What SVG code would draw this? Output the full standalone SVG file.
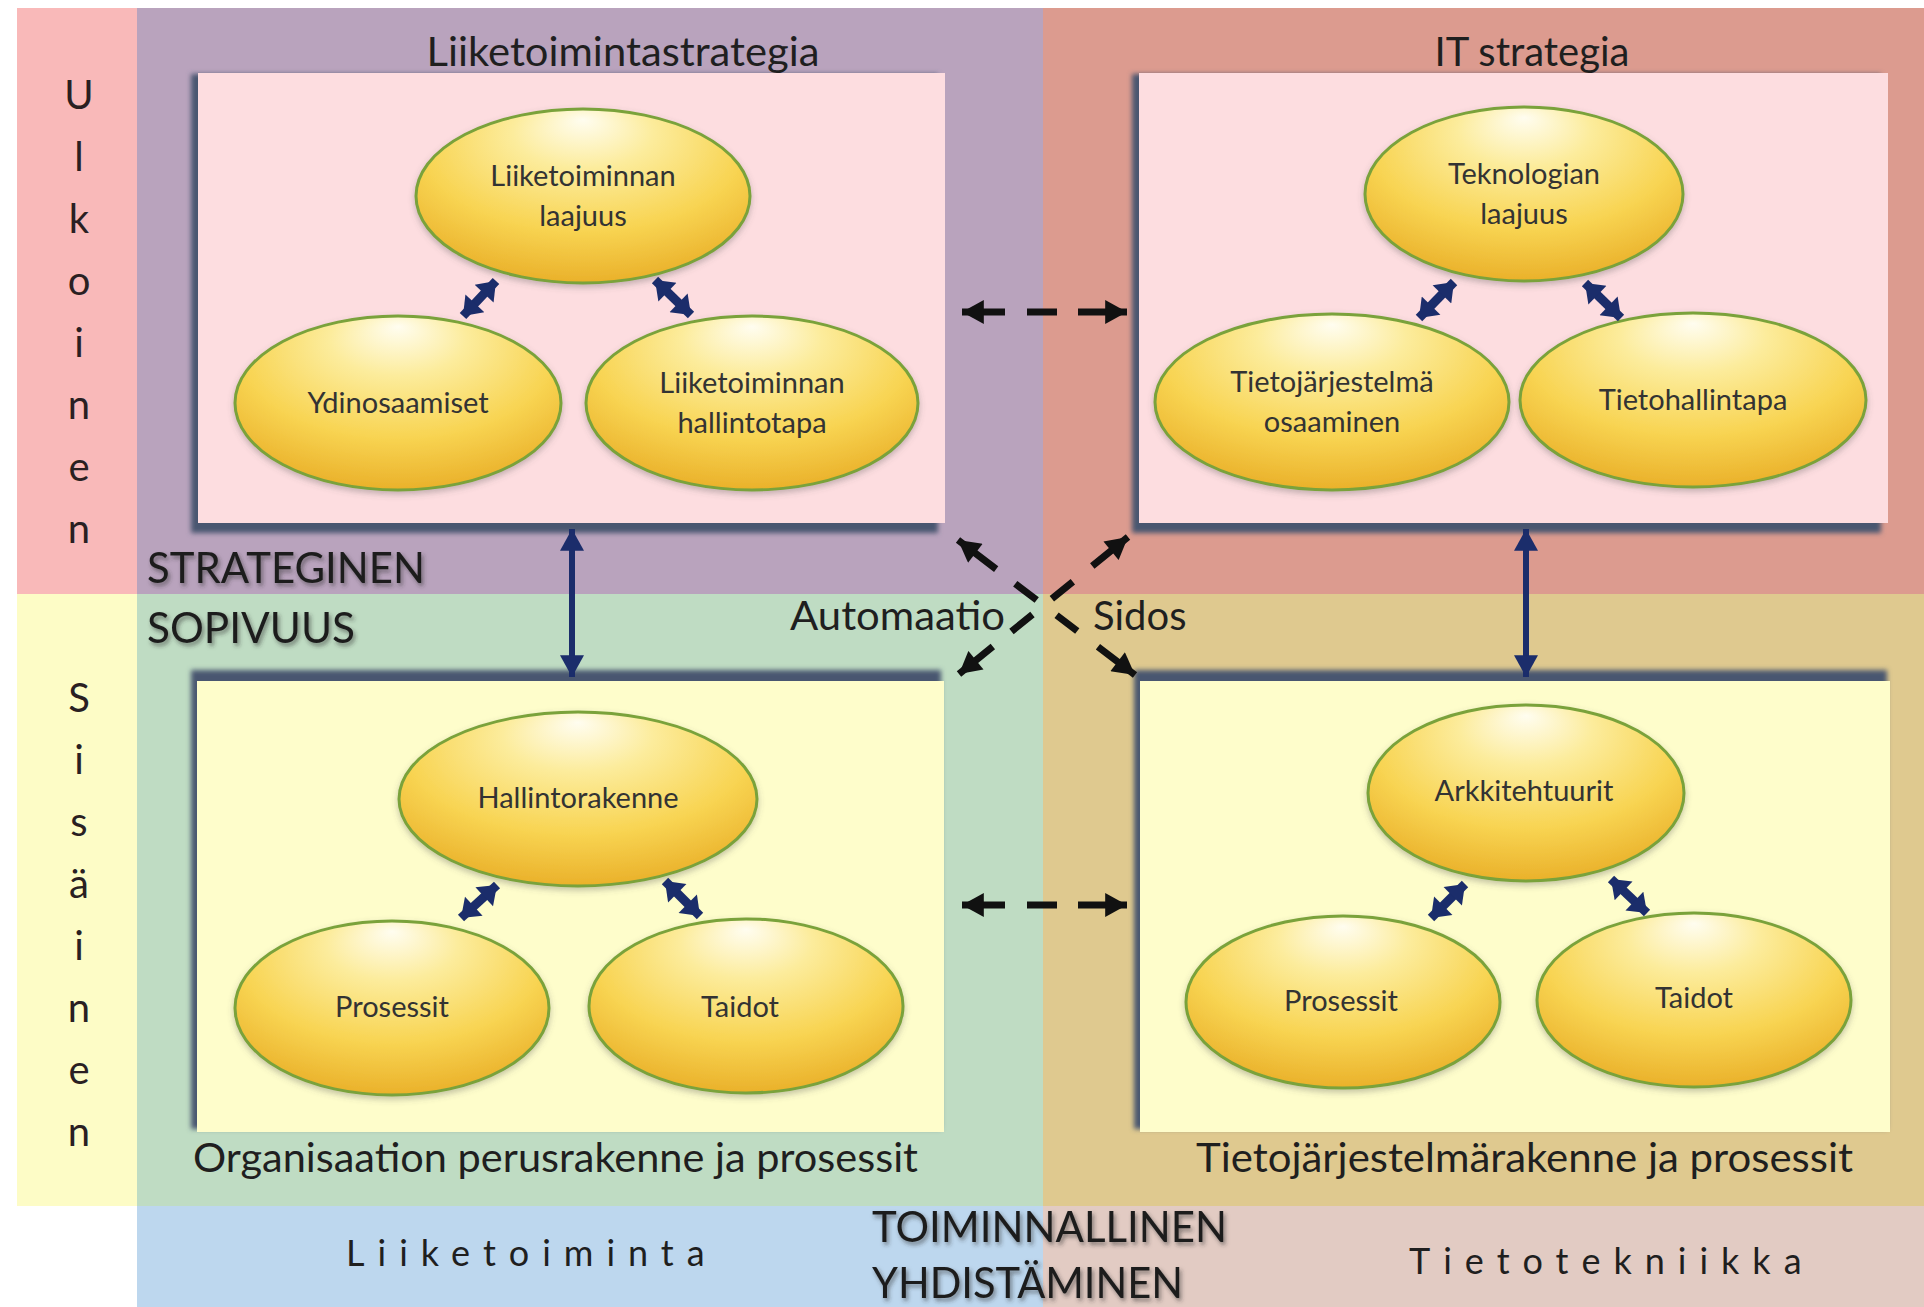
<svg xmlns="http://www.w3.org/2000/svg" width="1924" height="1307" viewBox="0 0 1924 1307">
<defs>
<style>
.t{font-family:Lato,"Liberation Sans",sans-serif;fill:#262626}
.et{font-family:Lato,"Liberation Sans",sans-serif;font-size:29px;fill:#333333;text-anchor:middle}
.ell{fill:url(#eg);stroke:#7aa23a;stroke-width:3;filter:url(#esh)}
.vert{font-family:Lato,"Liberation Sans",sans-serif;font-size:40px;fill:#2a1f22;text-anchor:middle}
.big{font-family:Lato,"Liberation Sans",sans-serif;font-size:42px;fill:#1c1c1c;filter:url(#tsh)}
.lab{font-family:Lato,"Liberation Sans",sans-serif;font-size:40px;fill:#1f1f1f}
.sp{font-family:Lato,"Liberation Sans",sans-serif;font-size:36px;fill:#1f1f1f;letter-spacing:13px}
.bx{stroke:none}
.shd{fill:#4a5670;filter:url(#blur)}
.navy{stroke:#1b2d6b;fill:none}
.blk{stroke:#111;fill:none;stroke-width:7}
</style>
<radialGradient id="eg" cx="50%" cy="30%" r="70%" fx="50%" fy="6%">
<stop offset="0" stop-color="#fffdf0"/>
<stop offset="0.3" stop-color="#fcec9c"/>
<stop offset="0.68" stop-color="#f8d452"/>
<stop offset="1" stop-color="#eab12a"/>
</radialGradient>
<filter id="esh" x="-10%" y="-10%" width="120%" height="130%">
<feDropShadow dx="0" dy="3" stdDeviation="3" flood-color="#555" flood-opacity="0.35"/>
</filter>
<filter id="tsh" x="-5%" y="-20%" width="110%" height="150%">
<feDropShadow dx="2" dy="3" stdDeviation="2" flood-color="#333" flood-opacity="0.55"/>
</filter>
<filter id="blur" x="-5%" y="-5%" width="110%" height="110%">
<feGaussianBlur stdDeviation="2.5"/>
</filter>
<marker id="nh" markerUnits="userSpaceOnUse" markerWidth="24" markerHeight="24" viewBox="0 0 22 22" refX="20" refY="11" orient="auto-start-reverse">
<path d="M0,0 L20,11 L0,22 z" fill="#1b2d6b"/>
</marker>
<marker id="sh" markerUnits="userSpaceOnUse" markerWidth="26" markerHeight="26" viewBox="0 0 16 24" refX="16" refY="12" orient="auto-start-reverse">
<path d="M0,0 L16,12 L0,24 z" fill="#1b2d6b"/>
</marker>
<marker id="bh" markerUnits="userSpaceOnUse" markerWidth="24" markerHeight="24" viewBox="0 0 20 22" refX="20" refY="11" orient="auto-start-reverse">
<path d="M0,0 L20,11 L0,22 z" fill="#111"/>
</marker>
</defs>

<g id="background">
<rect x="0" y="0" width="1924" height="1307" fill="#ffffff"/>
<rect x="17" y="8" width="120" height="586" fill="#f9b9b9"/>
<rect x="17" y="594" width="120" height="612" fill="#fdfcc6"/>
<rect x="137" y="8" width="906" height="586" fill="#b9a3bd"/>
<rect x="1043" y="8" width="881" height="586" fill="#dc9b8f"/>
<rect x="137" y="594" width="906" height="612" fill="#bfdcc3"/>
<rect x="1043" y="594" width="881" height="612" fill="#dfc98f"/>
<rect x="137" y="1206" width="906" height="101" fill="#bdd7ee"/>
<rect x="1043" y="1206" width="881" height="101" fill="#e2cbc3"/>
</g>

<g id="side-labels">
<text class="vert"><tspan x="79" y="109">U</tspan><tspan x="79" dy="62">l</tspan><tspan x="79" dy="62">k</tspan><tspan x="79" dy="62">o</tspan><tspan x="79" dy="62">i</tspan><tspan x="79" dy="62">n</tspan><tspan x="79" dy="62">e</tspan><tspan x="79" dy="62">n</tspan></text>
<text class="vert"><tspan x="79" y="712">S</tspan><tspan x="79" dy="62">i</tspan><tspan x="79" dy="62">s</tspan><tspan x="79" dy="62">ä</tspan><tspan x="79" dy="62">i</tspan><tspan x="79" dy="62">n</tspan><tspan x="79" dy="62">e</tspan><tspan x="79" dy="62">n</tspan></text>
</g>

<g id="box-liiketoimintastrategia">
<rect class="shd" x="191" y="74" width="747" height="459"/>
<rect class="bx" x="198" y="73" width="747" height="450" fill="#fddde0"/>
<text class="lab" x="623" y="66" text-anchor="middle" textLength="393" lengthAdjust="spacingAndGlyphs">Liiketoimintastrategia</text>
</g>
<g id="box-it-strategia">
<rect class="shd" x="1132" y="74" width="749" height="459"/>
<rect class="bx" x="1139" y="73" width="749" height="450" fill="#fddde0"/>
<text class="lab" x="1532" y="66" text-anchor="middle">IT strategia</text>
</g>
<g id="box-organisaatio">
<rect class="shd" x="191" y="670" width="750" height="459"/>
<rect class="bx" x="197" y="681" width="747" height="451" fill="#fefdcb"/>
<text class="lab" x="193" y="1172" textLength="725" lengthAdjust="spacingAndGlyphs">Organisaation perusrakenne ja prosessit</text>
</g>
<g id="box-tietojarjestelma">
<rect class="shd" x="1134" y="670" width="753" height="459"/>
<rect class="bx" x="1140" y="681" width="750" height="451" fill="#fefdcb"/>
<text class="lab" x="1196" y="1172" textLength="657" lengthAdjust="spacingAndGlyphs">Tietojärjestelmärakenne ja prosessit</text>
</g>

<g id="node-liiketoiminnan-laajuus">
<ellipse class="ell" cx="583" cy="196" rx="167" ry="87"/>
<text class="et" x="583" y="186">Liiketoiminnan</text>
<text class="et" x="583" y="226">laajuus</text>
</g>
<g id="node-ydinosaamiset">
<ellipse class="ell" cx="398" cy="403" rx="163" ry="87"/>
<text class="et" x="398" y="413">Ydinosaamiset</text>
</g>
<g id="node-liiketoiminnan-hallintotapa">
<ellipse class="ell" cx="752" cy="403" rx="166" ry="87"/>
<text class="et" x="752" y="393">Liiketoiminnan</text>
<text class="et" x="752" y="433">hallintotapa</text>
</g>

<g id="node-teknologian-laajuus">
<ellipse class="ell" cx="1524" cy="194" rx="159" ry="87"/>
<text class="et" x="1524" y="184">Teknologian</text>
<text class="et" x="1524" y="224">laajuus</text>
</g>
<g id="node-tietojarjestelma-osaaminen">
<ellipse class="ell" cx="1332" cy="402" rx="177" ry="88"/>
<text class="et" x="1332" y="392">Tietojärjestelmä</text>
<text class="et" x="1332" y="432">osaaminen</text>
</g>
<g id="node-tietohallintapa">
<ellipse class="ell" cx="1693" cy="400" rx="173" ry="87"/>
<text class="et" x="1693" y="410">Tietohallintapa</text>
</g>

<g id="node-hallintorakenne">
<ellipse class="ell" cx="578" cy="799" rx="179" ry="87"/>
<text class="et" x="578" y="808">Hallintorakenne</text>
</g>
<g id="node-prosessit-1">
<ellipse class="ell" cx="392" cy="1008" rx="157" ry="87"/>
<text class="et" x="392" y="1017">Prosessit</text>
</g>
<g id="node-taidot-1">
<ellipse class="ell" cx="746" cy="1006" rx="157" ry="87"/>
<text class="et" x="740" y="1017">Taidot</text>
</g>

<g id="node-arkkitehtuurit">
<ellipse class="ell" cx="1526" cy="793" rx="158" ry="88"/>
<text class="et" x="1524" y="801">Arkkitehtuurit</text>
</g>
<g id="node-prosessit-2">
<ellipse class="ell" cx="1343" cy="1002" rx="157" ry="86"/>
<text class="et" x="1341" y="1011">Prosessit</text>
</g>
<g id="node-taidot-2">
<ellipse class="ell" cx="1694" cy="1000" rx="157" ry="87"/>
<text class="et" x="1694" y="1008">Taidot</text>
</g>

<g id="connectors">
<line class="navy" x1="463" y1="316" x2="496" y2="281" stroke-width="9" marker-start="url(#sh)" marker-end="url(#sh)"/>
<line class="navy" x1="655" y1="280" x2="691" y2="315" stroke-width="9" marker-start="url(#sh)" marker-end="url(#sh)"/>
<line class="navy" x1="1419" y1="318" x2="1454" y2="282" stroke-width="9" marker-start="url(#sh)" marker-end="url(#sh)"/>
<line class="navy" x1="1585" y1="283" x2="1621" y2="318" stroke-width="9" marker-start="url(#sh)" marker-end="url(#sh)"/>
<line class="navy" x1="461" y1="918" x2="497" y2="885" stroke-width="9" marker-start="url(#sh)" marker-end="url(#sh)"/>
<line class="navy" x1="665" y1="881" x2="700" y2="916" stroke-width="9" marker-start="url(#sh)" marker-end="url(#sh)"/>
<line class="navy" x1="1431" y1="918" x2="1465" y2="884" stroke-width="9" marker-start="url(#sh)" marker-end="url(#sh)"/>
<line class="navy" x1="1611" y1="879" x2="1647" y2="913" stroke-width="9" marker-start="url(#sh)" marker-end="url(#sh)"/>
<line class="navy" x1="572" y1="529" x2="572" y2="677" stroke-width="6" marker-start="url(#nh)" marker-end="url(#nh)"/>
<line class="navy" x1="1526" y1="529" x2="1526" y2="677" stroke-width="6" marker-start="url(#nh)" marker-end="url(#nh)"/>
<line class="blk" x1="962" y1="312" x2="1127" y2="312" stroke-dasharray="43 22 30 21 60" marker-start="url(#bh)" marker-end="url(#bh)"/>
<line class="blk" x1="962" y1="905" x2="1127" y2="905" stroke-dasharray="43 22 30 21 60" marker-start="url(#bh)" marker-end="url(#bh)"/>
<line class="blk" x1="958" y1="540" x2="1135" y2="675" stroke-dasharray="48 24 27 25 26 26 60" marker-start="url(#bh)" marker-end="url(#bh)"/>
<line class="blk" x1="1128" y1="537" x2="959" y2="674" stroke-dasharray="46 25 27 25 27 24 60" marker-start="url(#bh)" marker-end="url(#bh)"/>
</g>

<g id="labels">
<text class="lab" x="790" y="630" textLength="215" lengthAdjust="spacingAndGlyphs">Automaatio</text>
<text class="lab" x="1093" y="630">Sidos</text>
<text class="big" x="147" y="583" textLength="278" lengthAdjust="spacingAndGlyphs">STRATEGINEN</text>
<text class="big" x="147" y="643" textLength="208" lengthAdjust="spacingAndGlyphs">SOPIVUUS</text>
<text class="big" x="872" y="1242" textLength="355" lengthAdjust="spacingAndGlyphs">TOIMINNALLINEN</text>
<text class="big" x="872" y="1298" textLength="311" lengthAdjust="spacingAndGlyphs">YHDISTÄMINEN</text>
<text class="sp" x="346" y="1266">Liiketoiminta</text>
<text class="sp" x="1409" y="1274">Tietotekniikka</text>
</g>
</svg>
